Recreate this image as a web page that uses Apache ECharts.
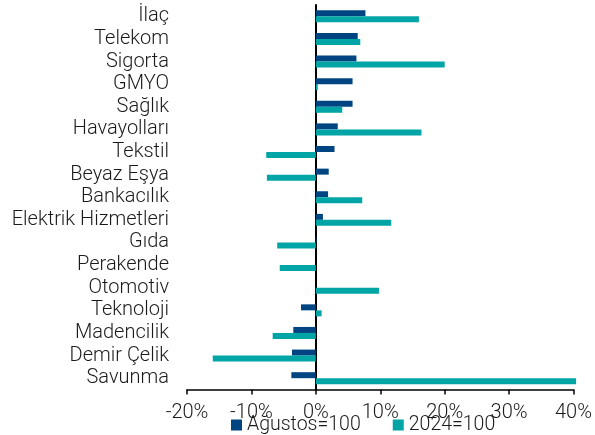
<!DOCTYPE html>
<html>
<head>
<meta charset="utf-8">
<script src="https://cdn.jsdelivr.net/npm/echarts@6/dist/echarts.min.js"></script>
<style>
  html, body { margin: 0; padding: 0; background: #fff; }
  #chart { width: 595px; height: 435px; }
</style>
</head>
<body>
<div id="chart"></div>
<script>
// Sector names, top to bottom
const sectors = [
  'İlaç', 'Telekom', 'Sigorta', 'GMYO', 'Sağlık', 'Havayolları', 'Tekstil',
  'Beyaz Eşya', 'Bankacılık', 'Elektrik Hizmetleri', 'Gıda', 'Perakende',
  'Otomotiv', 'Teknoloji', 'Madencilik', 'Demir Çelik', 'Savunma'
];

// Change vs. August base (%)
const augustBase = [7.7, 6.5, 6.3, 5.7, 5.7, 3.4, 2.9, 2.0, 1.9, 1.1, 0.1, 0.0, 0.0, -2.3, -3.5, -3.7, -3.8];

// Change vs. 2024 base (%)
const yearBase = [16.0, 6.9, 20.0, 0.3, 4.1, 16.4, -7.7, -7.6, 7.2, 11.7, -6.0, -5.6, 9.8, 0.9, -6.7, -16.0, 40.4];

const seriesNames = ['Ağustos=100', '2024=100'];
const xTicks = { min: -20, max: 40, step: 10 };

const font = 'Roboto, "Liberation Sans", Arial, sans-serif';
const fontWeight = 300;
const textColor = '#1a1a1a';

const chart = echarts.init(document.getElementById('chart'), null, { renderer: 'canvas' });
chart.setOption({
  animation: false,
  textStyle: { fontFamily: font },
  grid: { left: 187, right: 17, top: 5, bottom: 45.5 },
  legend: {
    data: seriesNames,
    left: 226,
    top: 410,
    itemWidth: 11,
    itemHeight: 11,
    itemGap: 32,
    icon: 'rect',
    textStyle: { fontFamily: font, fontWeight: fontWeight, fontSize: 19.5, color: textColor }
  },
  xAxis: {
    type: 'value',
    min: xTicks.min,
    max: xTicks.max,
    interval: xTicks.step,
    splitLine: { show: false },
    axisLine: { show: true, onZero: false, lineStyle: { color: '#000', width: 1.5 } },
    axisTick: { show: true, length: 5, lineStyle: { color: '#000', width: 1.5 } },
    axisLabel: {
      formatter: v => v + '%',
      fontFamily: font, fontWeight: fontWeight, fontSize: 20, color: textColor, margin: 13
    }
  },
  yAxis: {
    type: 'category',
    data: sectors,
    inverse: true,
    axisLine: { show: true, onZero: true, lineStyle: { color: '#000', width: 2 } },
    axisTick: { show: false },
    axisLabel: { interval: 0, fontFamily: font, fontWeight: fontWeight, fontSize: 20, color: textColor, margin: 18 }
  },
  series: [
    {
      name: seriesNames[0],
      type: 'bar',
      data: augustBase,
      barWidth: 6,
      barGap: '0%',
      clip: false,
      itemStyle: { color: '#004481' }
    },
    {
      name: seriesNames[1],
      type: 'bar',
      data: yearBase,
      barWidth: 6,
      barGap: '0%',
      clip: false,
      itemStyle: { color: '#02A5A5' }
    }
  ]
});
</script>
</body>
</html>
